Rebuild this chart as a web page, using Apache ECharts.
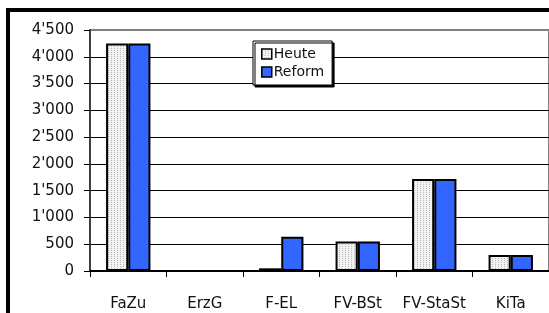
<!DOCTYPE html>
<html>
<head>
<meta charset="utf-8">
<script src="https://cdn.jsdelivr.net/npm/echarts@6/dist/echarts.min.js"></script>
<style>
  html, body { margin: 0; padding: 0; background: #fff; }
  #chart { width: 549px; height: 313px; }
</style>
</head>
<body>
<div id="chart"></div>
<script>
const categories = ['FaZu', 'ErzG', 'F-EL', 'FV-BSt', 'FV-StaSt', 'KiTa']
const heute = [4250, 0, 50, 550, 1720, 300]
const reform = [4250, 0, 640, 550, 1720, 300]
const seriesNames = ['Heute', 'Reform']

// dotted light-grey fill for "Heute"
const makePattern = () => {
  const c = document.createElement('canvas')
  c.width = 3
  c.height = 2
  const ctx = c.getContext('2d')
  ctx.fillStyle = '#f2f2f2'
  ctx.fillRect(0, 0, 3, 2)
  ctx.fillStyle = '#b8b8b8'
  ctx.fillRect(0, 0, 1, 1)
  return c
}

const fmt = v => String(v).replace(/\B(?=(\d{3})+(?!\d))/g, "'")

const chart = echarts.init(document.getElementById('chart'))
const font = 'DejaVu Sans'

chart.setOption({
  animation: false,
  textStyle: { fontFamily: font },
  grid: {
    left: 90, top: 30, width: 466, bottom: 42,
    show: true, borderColor: '#808080', borderWidth: 2
  },
  legend: {
    orient: 'vertical',
    left: 253, top: 41,
    padding: [6, 8, 6, 8],
    icon: 'rect',
    itemWidth: 10, itemHeight: 10, itemGap: 4,
    backgroundColor: '#fff',
    borderColor: '#000', borderWidth: 1,
    shadowColor: '#000', shadowBlur: 0, shadowOffsetX: 2, shadowOffsetY: 2,
    itemStyle: { borderColor: '#000', borderWidth: 1.5 },
    textStyle: { fontFamily: font, fontSize: 14, color: '#111', lineHeight: 14, padding: [0, 0, 0, -3] },
    data: seriesNames
  },
  xAxis: {
    type: 'category',
    data: categories,
    axisLine: { lineStyle: { color: '#000', width: 2 } },
    axisTick: { show: true, length: 6, lineStyle: { color: '#000' } },
    axisLabel: { interval: 0, fontFamily: font, fontSize: 15, color: '#111', margin: 26 }
  },
  yAxis: {
    type: 'value',
    min: 0, max: 4500, interval: 500,
    axisLine: { show: true, lineStyle: { color: '#404040', width: 2 } },
    axisTick: { show: true, length: 6, lineStyle: { color: '#000' } },
    axisLabel: { fontFamily: font, fontSize: 15, color: '#111', margin: 16, formatter: fmt },
    splitLine: {
      lineStyle: {
        color: ['#000', '#000', '#000', '#000', '#000', '#000', '#000', '#000', '#000', '#808080'],
        width: 1
      }
    }
  },
  series: [
    {
      name: seriesNames[0],
      type: 'bar',
      data: heute,
      barGap: '0%',
      barCategoryGap: '42%',
      itemStyle: {
        color: { image: makePattern(), repeat: 'repeat' },
        borderColor: '#000', borderWidth: 2
      }
    },
    {
      name: seriesNames[1],
      type: 'bar',
      data: reform,
      itemStyle: { color: '#3366ff', borderColor: '#000', borderWidth: 2 }
    }
  ],
  graphic: [
    {
      type: 'rect',
      shape: { x: 8, y: 10, width: 700, height: 500 },
      style: { fill: 'none', stroke: '#000', lineWidth: 4 },
      z: 100
    }
  ]
})
</script>
</body>
</html>
